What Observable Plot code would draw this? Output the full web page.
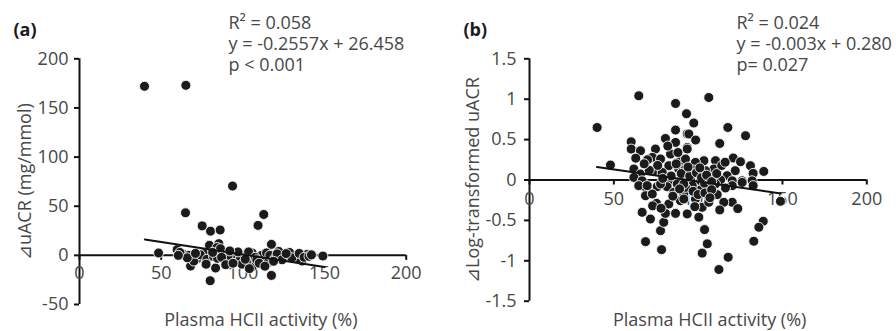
<!DOCTYPE html>
<html><head><meta charset="utf-8">
<script src="https://cdn.jsdelivr.net/npm/d3@7"></script>
<script src="https://cdn.jsdelivr.net/npm/@observablehq/plot@0.6"></script>
<style>
body{margin:0;background:#fff}
#wrap{position:relative;width:896px;height:331px;overflow:hidden}
.panel{position:absolute;top:0}
svg{overflow:visible}
</style>
</head><body><div id="wrap"></div>
<script>
// ---------- data ----------
const xTicks = [0, 50, 100, 150, 200];
const aYTicks = [-50, 0, 50, 100, 150, 200];
const bYTicks = [-1.5, -1, -0.5, 0, 0.5, 1, 1.5];

const aLabel = "(a)";
const bLabel = "(b)";
const aStats = ["R² = 0.058", "y = -0.2557x + 26.458", "p < 0.001"];
const bStats = ["R² = 0.024", "y = -0.003x + 0.280", "p= 0.027"];
const aYTitle = "⊿uACR (mg/mmol)";
const bYTitle = "⊿Log-transformed uACR";
const xTitle = "Plasma HCII activity (%)";

// regression lines (slope, intercept, x-range)
const aFit = {slope: -0.2557, intercept: 26.458, x0: 40, x1: 150};
const bFit = {slope: -0.003, intercept: 0.280, x0: 40, x1: 149};

// panel (a) points
const aX = [39.8,65.1,93.7,64.9,112.8,75.1,109.3,80.2,86.1,48.4,117.5,79.6,85.3,84.2,59.8,63.9,68,80,83.3,117.5,
  149,139.2,136.3,131.2,127.1,122,112.8,111.6,105.7,105.7,100.6,95.5,96.5,133.3,125,79.2,72,88.8,92.4,94.5,
  86.3,76.1,67,70,61.5,74,78,82,84.5,90,91,98.5,102.5,103.5,107.5,108.5,114.5,115,116.5,119.5,
  121,124,128.5,130,134.5,137.5,140.5,142,97,99.5,92,87,77.5,81.5,66,71,104,110,118.8,126.5,
  89.5,101.5,94,60.5,113.5];
const aY = [172,173,70.5,43.3,41.6,30,30.5,24.6,25.8,2.4,11.2,10.2,11.9,8,5.8,0.7,-10.9,-25.8,-12.9,-20.4,
  -0.7,0.8,-5.8,0,0.5,4,-5.1,0,2.4,-11.5,0,1.7,-5.1,-3.4,-1.7,-1.7,-3.4,1.7,-3.4,1.7,
  6.8,1.7,0,-5.8,3,0.5,-4,-1,-3,-6,0,-2,-6,3.5,-2,-4.5,2.5,-8,0,-3.5,
  1.5,-4.5,3,-2.5,2,-2,-1,0.5,3.5,-9,4.5,-2,-9,3,-2.5,2,-13.5,-8,-6,1.8,
  -9.5,-4,-8,0,-11];

// panel (b) points
const bX = [64.8,40.1,48,86.6,93.1,60.3,60.3,65.8,74.7,80.6,86.6,86.6,72.8,77.7,61.9,65.8,61.9,66.8,83.6,89.5,
  93.5,82.6,88.5,73.7,78.7,83.5,89.5,75.7,81.6,68.6,93.5,
  106.3,97.4,117.6,128.1,112.8,94.5,98.5,93.5,120.8,125.1,131,138.9,132.6,122,117.2,110.3,109.3,103.4,98.4,
  104.4,97.4,92.5,92.5,113.3,126.1,132,101.4,95.5,107.3,120.2,
  68.8,78.3,77.7,79.6,66.8,71.7,80.6,86.6,75.3,82.6,68.8,72.8,89.5,85.6,93.5,64.8,69.8,77.7,87.6,91.5,
  148.8,138.6,136,133,120.2,123.5,115.2,112.8,111.3,103.8,105.4,102.4,117.8,112.3,100.4,102.4,106.3,98.4,91.5,101.4,
  96.5,92.5,103.8,110.3,120.2,126.1,132.6,116.2,
  84,87,90,91.5,95,99,102,105,108,111,114,116,79,76,71,85,89,97,100,104,108,94,82,88,101,73,78,98,107,70,63,68];
const bY = [1.042,0.65,0.185,0.947,0.82,0.473,0.383,0.362,0.383,0.514,0.618,0.465,0.28,0.26,0.136,0.074,0.032,-0.01,0.321,0.239,
  0.403,0.177,0.136,0.115,0.094,-0.01,-0.01,-0.083,-0.083,-0.083,0.57,
  1.021,0.705,0.65,0.548,0.452,0.569,0.494,0.383,0.272,0.226,0.177,0.106,0.082,0.115,0.053,0.239,0.136,0.239,0.218,
  0.115,0.124,0.26,0.136,0,-0.01,-0.01,-0.01,0.012,0.032,-0.01,
  -0.763,-0.862,-0.627,-0.524,-0.4,-0.483,-0.413,-0.413,-0.289,-0.297,-0.194,-0.173,-0.256,-0.153,-0.42,-0.07,-0.07,-0.049,-0.049,-0.173,
  -0.264,-0.511,-0.585,-0.758,-0.276,-0.354,-0.276,-0.37,-0.181,-0.614,-0.79,-0.905,-0.956,-1.108,-0.46,-0.338,-0.276,-0.235,-0.235,-0.124,
  -0.07,-0.091,-0.042,-0.049,-0.07,-0.03,-0.07,-0.099,
  0.05,0.2,0.08,-0.05,0.05,0.09,0.03,0.06,-0.02,0.08,0.18,0.22,0.02,0.18,0.12,-0.2,-0.11,-0.14,-0.18,-0.16,-0.12,0.16,0.42,0.34,0.15,-0.32,-0.35,-0.33,-0.22,0.25,0.27,0.2];

// ---------- drawing ----------
const H = 331;
const textColor = "#474747";
const font = "'Open Sans', 'Noto Sans', sans-serif";
const FS = 18;

function build(cfg) {
  const {left, width, mL, mR, mT, mB, yDomain, yTicks, xs, ys, fit, label, stats, yTitle,
         yTickPad, xTickDy, yTitleDx, xTitleDx, xTitleDy, statsDx, labelDx} = cfg;
  const yS = d3.scaleLinear(yDomain, [H - mB, mT]);
  const tickEnd = yS.invert(yS(0) + 5);
  const pts = xs.map((x, i) => ({x, y: ys[i]}));
  const fitPts = [fit.x0, fit.x1].map(x => ({x, y: fit.slope * x + fit.intercept}));
  const statMarks = stats.map((s, i) => Plot.text([s], {frameAnchor: "top-left", dx: statsDx, dy: -mT + 23 + i * 21,
    text: d => d, textAnchor: "start", lineAnchor: "middle", fill: textColor, fontSize: FS}));
  const plot = Plot.plot({
    width, height: H,
    marginLeft: mL, marginRight: mR, marginTop: mT, marginBottom: mB,
    style: {fontFamily: font, fontSize: FS + "px", color: textColor, background: "transparent", overflow: "visible"},
    x: {domain: [0, 200], axis: null},
    y: {domain: yDomain, axis: null},
    marks: [
      Plot.axisY({ticks: yTicks, tickSize: 5, tickPadding: yTickPad, tickFormat: d => String(d),
        label: null, stroke: "#111", strokeWidth: 2, fill: textColor, fontSize: FS}),
      Plot.ruleX([0], {stroke: "#111", strokeWidth: 2}),
      Plot.ruleY([0], {stroke: "#111", strokeWidth: 2}),
      Plot.ruleX(xTicks, {x: d => d, y1: 0, y2: tickEnd, stroke: "#111", strokeWidth: 2}),
      Plot.text(xTicks, {x: d => d, y: 0, dy: xTickDy, text: d => String(d), lineAnchor: "middle",
        fill: textColor, fontSize: FS}),
      Plot.dot(pts, {x: "x", y: "y", r: 5, fill: "#1b1b1b", stroke: "#fff", strokeWidth: 0.9}),
      Plot.line(fitPts, {x: "x", y: "y", stroke: "#111", strokeWidth: 2}),
      Plot.text([yTitle], {frameAnchor: "left", dx: yTitleDx, rotate: -90, text: d => d,
        textAnchor: "middle", lineAnchor: "middle", fill: textColor, fontSize: FS}),
      Plot.text([xTitle], {frameAnchor: "bottom", dx: xTitleDx, dy: xTitleDy, text: d => d,
        textAnchor: "middle", lineAnchor: "middle", fill: textColor, fontSize: FS}),
      Plot.text([label], {frameAnchor: "top-left", dx: -mL + labelDx, dy: -mT + 30, text: d => d,
        textAnchor: "start", lineAnchor: "middle", fontWeight: "bold", fill: "#1a1a1a", fontSize: FS}),
      ...statMarks
    ]
  });
  const div = document.createElement("div");
  div.className = "panel";
  div.style.left = left + "px";
  div.appendChild(plot);
  document.getElementById("wrap").appendChild(div);
}

build({left: 0, width: 448, mL: 79, mR: 42.3, mT: 58.3, mB: 27, yDomain: [-50, 200], yTicks: aYTicks,
  xs: aX, ys: aY, fit: aFit, label: aLabel, stats: aStats, yTitle: aYTitle,
  yTickPad: 6, xTickDy: 17.5, yTitleDx: -54, xTitleDx: 18, xTitleDy: 16, statsDx: 228 - 79, labelDx: 13});

build({left: 448, width: 448, mL: 81, mR: 29.7, mT: 58.3, mB: 30.3, yDomain: [-1.5, 1.5], yTicks: bYTicks,
  xs: bX, ys: bY, fit: bFit, label: bLabel, stats: bStats, yTitle: bYTitle,
  yTickPad: 8, xTickDy: 19.5, yTitleDx: -56, xTitleDx: 11.5, xTitleDy: 19.5, statsDx: 288 - 81, labelDx: 15});
</script>
</body></html>
